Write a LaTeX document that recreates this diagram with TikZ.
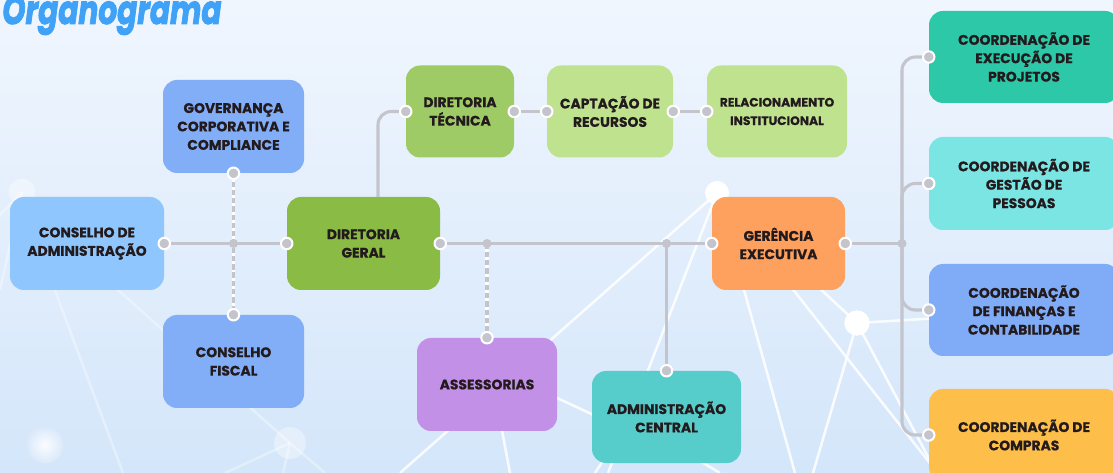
\documentclass[tikz,border=0pt]{standalone}
\usepackage{fontspec}
\setmainfont{Poppins}[BoldFeatures={FakeBold=0.6}]
\newfontfamily\titlef{Poppins}[FakeBold=2.4]
\usetikzlibrary{calc}
\definecolor{txt}{RGB}{35,26,30}
\definecolor{lnk}{RGB}{196,196,205}
\definecolor{ttl}{RGB}{63,162,247}
\definecolor{cCA}{RGB}{143,198,253}
\definecolor{cBL}{RGB}{130,174,247}
\definecolor{cDG}{RGB}{138,187,68}
\definecolor{cDT}{RGB}{158,203,102}
\definecolor{cLG}{RGB}{191,226,143}
\definecolor{cAS}{RGB}{194,144,230}
\definecolor{cAC}{RGB}{86,205,203}
\definecolor{cGE}{RGB}{255,161,94}
\definecolor{cC1}{RGB}{44,200,168}
\definecolor{cC2}{RGB}{122,229,227}
\definecolor{cC3}{RGB}{128,172,247}
\definecolor{cC4}{RGB}{253,190,74}
\tikzset{
  bx/.style 2 args={rectangle, rounded corners=10.5pt, draw=none, inner sep=0pt,
    minimum width=#1*0.75pt, minimum height=#2*0.75pt, align=center,
    text=txt, font=\bfseries\fontsize{10.4}{13.8}\selectfont},
  lk/.style={draw=lnk, line width=2.3pt},
  dsh/.style={draw=lnk, line width=2.3pt, dash pattern=on 4pt off 2.2pt},
  bgl/.style={draw=white, line width=1.9pt, opacity=0.85},
  bgf/.style={draw=white, line width=1.9pt, opacity=0.35},
}
\newcommand{\pdot}[1]{\filldraw[fill=lnk, draw=white, line width=1.5pt] (#1) circle (4.3pt);}
\newcommand{\jdot}[1]{\fill[lnk] (#1) circle (3.4pt);}
\begin{document}
\begin{tikzpicture}[x=0.75pt,y=-0.75pt]
\useasboundingbox (0,0) rectangle (1113,473);
\clip (0,0) rectangle (1113,473);
% background
\shade[top color={rgb,255:red,240;green,246;blue,254}, bottom color={rgb,255:red,212;green,230;blue,250}] (0,0) rectangle (1113,473);
% background network
\draw[bgl] (717,193) -- (400,473);
\draw[bgl] (717,193) -- (608,473);
\draw[bgl] (717,193) -- (795,473);
\draw[bgl] (717,193) -- (940,476);
\draw[bgl] (717,193) -- (857,323);
\draw[bgl] (857,323) -- (940,318);
\draw[bgl] (857,323) -- (813,473);
\draw[bgl] (857,323) -- (935,470);
\draw[bgl] (500,420) -- (510,473);
\draw[bgl] (540,390) -- (600,418);
\draw[bgl] (610,450) -- (595,473);
\draw[bgl] (690,455) -- (720,473);
\fill[white] (717,193) circle (9pt);
\fill[white] (857,323) circle (9.5pt);
\draw[bgf] (40,250) -- (123,473);
\draw[bgf] (118,290) -- (290,443);
\draw[bgf] (290,443) -- (225,473);
\draw[bgf] (290,443) -- (283,473);
\draw[bgf] (290,443) -- (325,473);
\draw[bgf] (22,192) -- (0,290);
\draw[bgf] (22,192) -- (0,215);
\fill[white, opacity=0.35] (290,443) circle (12pt);
\fill[white, opacity=0.35] (22,192) circle (10pt);
\shade[inner color=white, outer color={rgb,255:red,218;green,233;blue,251}, opacity=0.9] (45,445) circle (14pt);
% title
\node[anchor=base west, inner sep=0pt, text=ttl, font=\titlef\bfseries\itshape\fontsize{30}{32}\selectfont] (title) at (2,24) {\scalebox{0.74}[1]{Organograma}};
% boxes
\node[bx={154}{93}, fill=cCA] (ca) at (87,243.5) {CONSELHO DE\\ADMINISTRAÇÃO};
\node[bx={141}{93}, fill=cBL] (gov) at (233.5,126.5) {GOVERNANÇA\\CORPORATIVA E\\COMPLIANCE};
\node[bx={141}{93}, fill=cBL] (cf) at (233.5,361.5) {CONSELHO\\FISCAL};
\node[bx={153}{93}, fill=cDG] (dg) at (363.5,243.5) {DIRETORIA\\GERAL};
\node[bx={108}{92}, fill=cDT] (dt) at (460,111.5) {DIRETORIA\\TÉCNICA};
\node[bx={126}{92}, fill=cLG] (cap) at (610,111.5) {CAPTAÇÃO DE\\RECURSOS};
\node[bx={140}{92}, fill=cLG, font=\bfseries\fontsize{9.2}{13.8}\selectfont] (rel) at (777,111.5) {RELACIONAMENTO\\INSTITUCIONAL};
\node[bx={140}{93}, fill=cAS] (ass) at (487,384.5) {ASSESSORIAS};
\node[bx={149}{92}, fill=cAC] (adm) at (666.5,417) {ADMINISTRAÇÃO\\CENTRAL};
\node[bx={133}{93}, fill=cGE] (ge) at (778.5,243.5) {GERÊNCIA\\EXECUTIVA};
\node[bx={190}{92}, fill=cC1] (c1) at (1024,57) {COORDENAÇÃO DE\\EXECUÇÃO DE\\PROJETOS};
\node[bx={190}{93}, fill=cC2] (c2) at (1024,183.5) {COORDENAÇÃO DE\\GESTÃO DE\\PESSOAS};
\node[bx={190}{92}, fill=cC3] (c3) at (1024,310) {COORDENAÇÃO\\DE FINANÇAS E\\CONTABILIDADE};
\node[bx={190}{92}, fill=cC4] (c4) at (1024,435) {COORDENAÇÃO DE\\COMPRAS};
% junctions
\coordinate (j1) at (233.5,243.5);
\coordinate (j2) at (487,243.5);
\coordinate (j3) at (666.5,243.5);
\coordinate (j4) at (902,243.5);
\coordinate (dgt) at (378,197);
% connectors
\draw[draw=white, line width=2.3pt] (gov.south) -- (cf.north);
\draw[dsh] (gov.south) -- (cf.north);
\draw[draw=white, line width=2.3pt] (j2) -- (ass.north);
\draw[dsh] (j2) -- (ass.north);
\draw[lk] (ca.east) -- (dg.west);
\draw[lk] (dg.east) -- (ge.west);
\draw[lk] (j3) -- (adm.north);
\draw[lk, rounded corners=10pt] (dgt) |- (dt.west);
\draw[lk] (dt.east) -- (cap.west);
\draw[lk] (cap.east) -- (rel.west);
\draw[lk] (ge.east) -- (j4);
\draw[lk, rounded corners=10pt] (j4) |- (c1.west);
\draw[lk, rounded corners=10pt] (j4) |- (c2.west);
\draw[lk, rounded corners=10pt] (j4) |- (c3.west);
\draw[lk, rounded corners=10pt] (j4) |- (c4.west);
% dots
\pdot{ca.east}\pdot{dg.west}\pdot{gov.south}\pdot{cf.north}
\pdot{dg.east}\pdot{ge.west}\pdot{ass.north}\pdot{adm.north}
\pdot{dt.west}\pdot{dt.east}\pdot{cap.west}\pdot{cap.east}\pdot{rel.west}
\pdot{ge.east}\pdot{c1.west}\pdot{c2.west}\pdot{c3.west}\pdot{c4.west}
\jdot{j1}\jdot{j2}\jdot{j3}\jdot{j4}
\end{tikzpicture}
\end{document}
